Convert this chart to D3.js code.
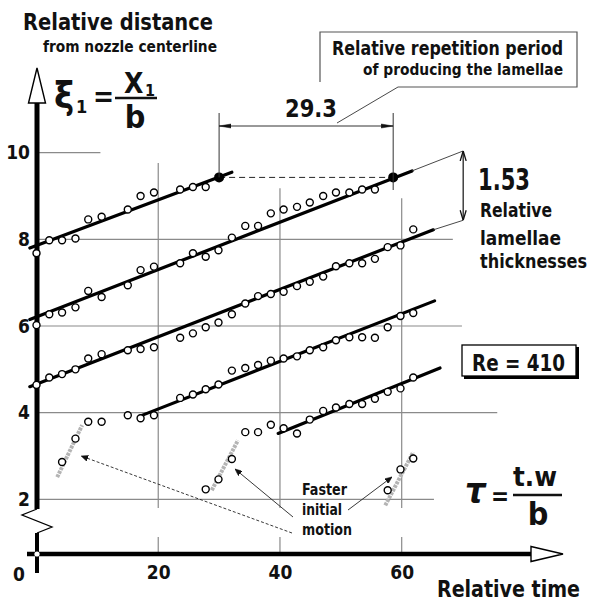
<!DOCTYPE html>
<html>
<head>
<meta charset="utf-8">
<script src="https://cdn.jsdelivr.net/npm/d3@7"></script>
<style>
  html, body { margin: 0; padding: 0; background: #fff; }
  svg { display: block; }
  text {
    font-family: "DejaVu Sans Condensed", "DejaVu Sans", sans-serif;
    font-stretch: condensed;
    font-weight: bold;
    fill: #111;
  }
</style>
</head>
<body>
<div id="chart"></div>
<script>
(function () {
    'use strict';

    // ticks
    var xTicks = [20, 40, 60];
    var yTicks = [2, 4, 6, 8, 10];

    // horizontal grid: level and where it stops (in tau units)
    var gridLevels = [10, 8, 6, 4, 2];
    var gridLevelEnds = [10.5, 68.4, 69.9, 75.7, 65.3];
    // vertical grid: tau and top (in xi units)
    var gridTimes = [20, 40, 60];
    var gridTimeTops = [9.76, 9.18, 8.95];

    // measured lamella positions [tau, xi1]
    var lamella1 = [[0, 7.68], [2.1, 7.98], [4.2, 7.98], [6.4, 8.02], [8.5, 8.46], [10.7, 8.52],
        [15.0, 8.69], [17.1, 9.00], [19.3, 9.08], [23.6, 9.15], [25.7, 9.21], [27.8, 9.21]];
    var lamella2 = [[0, 6.02], [2.1, 6.27], [4.2, 6.31], [6.4, 6.43], [8.5, 6.81], [10.7, 6.67],
        [15.0, 6.94], [17.1, 7.29], [19.3, 7.37], [23.6, 7.45], [25.7, 7.68], [27.8, 7.60],
        [29.9, 7.75], [32.1, 8.04], [34.3, 8.31], [36.4, 8.31], [38.5, 8.60], [40.6, 8.69],
        [42.8, 8.75], [44.9, 8.85], [47.1, 9.00], [49.2, 9.08], [51.4, 9.08], [53.5, 9.15],
        [55.6, 9.15]];
    var lamella3 = [[0, 4.64], [2.1, 4.81], [4.2, 4.89], [6.4, 5.00], [8.5, 5.25], [10.7, 5.35],
        [15.0, 5.44], [17.1, 5.47], [19.3, 5.51], [23.6, 5.73], [25.7, 5.83], [27.8, 5.97],
        [29.9, 6.08], [32.1, 6.27], [34.3, 6.52], [36.4, 6.69], [38.5, 6.74], [40.6, 6.79],
        [42.8, 6.92], [44.9, 7.02], [47.1, 7.14], [49.2, 7.38], [51.4, 7.45], [53.5, 7.45],
        [55.6, 7.55], [57.7, 7.82], [59.8, 7.86], [61.9, 8.23]];
    var lamella4 = [[15.0, 3.94], [17.1, 3.87], [19.3, 3.94], [23.6, 4.34], [25.7, 4.42],
        [27.8, 4.54], [29.9, 4.65], [32.1, 4.97], [34.3, 5.03], [36.4, 5.10], [38.5, 5.20],
        [40.6, 5.25], [42.8, 5.30], [44.9, 5.44], [47.1, 5.51], [49.2, 5.67], [51.4, 5.74],
        [53.5, 5.74], [55.6, 5.73], [57.7, 5.97], [59.8, 6.23], [61.9, 6.30]];
    var lamella5 = [[34.3, 3.55], [36.4, 3.55], [38.5, 3.72], [40.6, 3.64], [42.8, 3.52],
        [44.9, 3.84], [47.1, 4.04], [49.2, 4.12], [51.4, 4.20], [53.5, 4.20], [55.6, 4.32],
        [57.7, 4.48], [59.8, 4.56], [61.9, 4.81]];
    var initialMotion = [[4.2, 2.86], [6.4, 3.40], [8.5, 3.79], [10.7, 3.79],
        [27.8, 2.23], [29.9, 2.46], [32.1, 2.93],
        [57.7, 2.21], [59.8, 2.69], [61.9, 2.94]];

    // fitted lines [tau1, xi1, tau2, xi2]
    var fitLines = [
        [-1.1, 7.80, 32.1, 9.55],
        [-1.1, 6.15, 61.7, 9.58],
        [-1.1, 4.60, 65.2, 8.22],
        [17.0, 3.92, 65.4, 6.58],
        [39.7, 3.52, 66.3, 5.03]
    ];
    // faster initial motion slopes (grey)
    var fastSlopes = [
        [3.4, 2.51, 7.5, 3.71],
        [28.8, 2.21, 33.1, 3.36],
        [57.3, 1.86, 61.9, 3.09]
    ];
    // thin continuations used for the thickness measure
    var thinExtensions = [
        [61.7, 9.58, 70.1, 10.04],
        [65.2, 8.22, 70.1, 8.44]
    ];
    var periodDots = [[30.0, 9.43], [58.6, 9.43]];
    var periodLabel = '29.3';
    var thicknessLabel = '1.53';
    var reynolds = 'Re  = 410';

    var W = 603, H = 602;
    var axisX = 37, axisY = 554;

    var x = d3.scaleLinear().domain([0, 60]).range([36.5, 401.7]);
    var y = d3.scaleLinear().domain([2, 10]).range([499.3, 152.7]);

    var svg = d3.select('#chart').append('svg')
        .attr('width', W)
        .attr('height', H);

    var defs = svg.append('defs');

    function marker(id, path, w, h, refX, fill) {
        defs.append('marker')
            .attr('id', id)
            .attr('viewBox', '0 0 ' + w + ' ' + h)
            .attr('markerWidth', w)
            .attr('markerHeight', h)
            .attr('refX', refX)
            .attr('refY', h / 2)
            .attr('orient', 'auto-start-reverse')
            .attr('markerUnits', 'userSpaceOnUse')
            .append('path')
            .attr('d', path)
            .style('fill', fill)
            .style('stroke', '#111')
            .style('stroke-width', fill === 'none' ? 1.3 : 0.5);
    }
    marker('dim', 'M0,1 L12,3 L0,5 Z', 12, 6, 12, '#111');
    marker('vee', 'M0,1 L10,4 L0,7', 10, 8, 10, 'none');
    marker('lead', 'M0,0 L7,3 L0,6 Z', 7, 6, 7, '#111');

    function seg(g, d) {
        return g.append('line')
            .attr('x1', x(d[0])).attr('y1', y(d[1]))
            .attr('x2', x(d[2])).attr('y2', y(d[3]));
    }

    function label(txt, px, py, size, len, anchor) {
        var t = svg.append('text')
            .attr('x', px).attr('y', py)
            .style('font-size', size + 'px')
            .text(txt);
        if (len) t.attr('textLength', len).attr('lengthAdjust', 'spacingAndGlyphs');
        if (anchor) t.attr('text-anchor', anchor);
        return t;
    }

    // grid
    var grid = svg.append('g').attr('class', 'grid')
        .style('stroke', '#8a8a8a').style('stroke-width', 1.2);

    gridLevels.forEach(function (v, i) {
        grid.append('line')
            .attr('x1', axisX).attr('x2', x(gridLevelEnds[i]))
            .attr('y1', y(v)).attr('y2', y(v));
    });
    gridTimes.forEach(function (t, i) {
        grid.append('line')
            .attr('x1', x(t)).attr('x2', x(t))
            .attr('y1', y(gridTimeTops[i])).attr('y2', 508);
        grid.append('line')
            .attr('x1', x(t)).attr('x2', x(t))
            .attr('y1', 537).attr('y2', axisY);
    });

    // axes (labels through d3 axes, lines drawn by hand for the broken look)
    var yAxis = d3.axisLeft(y).tickValues(yTicks).tickSize(0).tickPadding(7);
    svg.append('g')
        .attr('transform', 'translate(' + axisX + ',0)')
        .call(yAxis)
        .call(function (g) { g.select('.domain').remove(); })
        .selectAll('text')
        .attr('font-family', null)
        .style('font-size', '19px');

    var xAxis = d3.axisBottom(x).tickValues(xTicks).tickSize(0).tickPadding(12);
    svg.append('g')
        .attr('transform', 'translate(0,' + axisY + ')')
        .call(xAxis)
        .call(function (g) { g.select('.domain').remove(); })
        .selectAll('text')
        .attr('font-family', null)
        .style('font-size', '19px');

    label('0', 19, 581, 19, null, 'middle');

    var axes = svg.append('g').style('stroke', '#000').style('fill', 'none');
    // vertical axis with break
    axes.append('line').attr('x1', axisX).attr('x2', axisX).attr('y1', 103).attr('y2', 509)
        .style('stroke-width', 5);
    axes.append('path').attr('d', 'M' + axisX + ',509 L22,515 L52,527 L' + axisX + ',533')
        .style('stroke-width', 1.3);
    axes.append('line').attr('x1', axisX).attr('x2', axisX).attr('y1', 533).attr('y2', 573)
        .style('stroke-width', 4);
    axes.append('path').attr('d', 'M' + axisX + ',68 L45.5,103 L28.5,103 Z')
        .style('fill', '#fff').style('stroke-width', 1.4);
    // horizontal axis
    axes.append('line').attr('x1', 27).attr('x2', 531).attr('y1', axisY).attr('y2', axisY)
        .style('stroke-width', 4.5);
    axes.append('path').attr('d', 'M531,546.5 L563,554 L531,561.5 Z')
        .style('fill', '#fff').style('stroke-width', 1.4);
    axes.append('circle').attr('cx', axisX).attr('cy', axisY).attr('r', 2.6)
        .style('fill', '#fff').style('stroke', 'none');

    // grey initial-motion slopes
    var slopes = svg.append('g').style('stroke', '#b4b4b4').style('stroke-width', 4)
        .style('stroke-dasharray', '3,1');
    fastSlopes.forEach(function (d) { seg(slopes, d); });

    // fitted lines
    var fits = svg.append('g').style('stroke', '#000').style('stroke-width', 3.2)
        .style('stroke-linecap', 'round');
    fitLines.forEach(function (d) { seg(fits, d); });

    var thin = svg.append('g').style('stroke', '#333').style('stroke-width', 0.9);
    thinExtensions.forEach(function (d) { seg(thin, d); });

    // period: dashed link + filled dots
    svg.append('line')
        .attr('x1', x(periodDots[0][0])).attr('x2', x(periodDots[1][0]))
        .attr('y1', y(periodDots[0][1])).attr('y2', y(periodDots[1][1]))
        .style('stroke', '#222').style('stroke-width', 1)
        .style('stroke-dasharray', '6,4');

    // data points
    var allPoints = [].concat(lamella1, lamella2, lamella3, lamella4, lamella5, initialMotion);
    svg.append('g').selectAll('circle')
        .data(allPoints)
        .join('circle')
        .attr('cx', function (d) { return x(d[0]); })
        .attr('cy', function (d) { return y(d[1]); })
        .attr('r', 3.5)
        .style('fill', '#fff')
        .style('stroke', '#000')
        .style('stroke-width', 1.4);

    svg.append('g').selectAll('circle')
        .data(periodDots)
        .join('circle')
        .attr('cx', function (d) { return x(d[0]); })
        .attr('cy', function (d) { return y(d[1]); })
        .attr('r', 5)
        .style('fill', '#000');

    // 29.3 dimension
    var dimY = 126;
    var dim = svg.append('g').style('stroke', '#333').style('stroke-width', 1);
    dim.append('line').attr('x1', x(periodDots[0][0])).attr('x2', x(periodDots[0][0]))
        .attr('y1', 113).attr('y2', y(periodDots[0][1]));
    dim.append('line').attr('x1', x(periodDots[1][0])).attr('x2', x(periodDots[1][0]))
        .attr('y1', 113).attr('y2', 190);
    dim.append('line').attr('x1', x(periodDots[0][0])).attr('x2', x(periodDots[1][0]))
        .attr('y1', dimY).attr('y2', dimY)
        .attr('marker-start', 'url(#dim)').attr('marker-end', 'url(#dim)');
    dim.append('line').attr('x1', 337).attr('y1', 123).attr('x2', 398).attr('y2', 87)
        .style('stroke-width', 0.9);
    label(periodLabel, 311, 117, 25, 52, 'middle');

    // callout box
    svg.append('path').attr('d', 'M320,82 V32 H577 V87 H398')
        .style('fill', 'none').style('stroke', '#555').style('stroke-width', 1.2);
    label('Relative repetition period', 332, 55, 20, 231);
    label('of producing the lamellae', 363, 75, 16, 200);

    // 1.53 thickness arrow
    var tx = x(thinExtensions[0][2]);
    svg.append('line').attr('x1', tx).attr('x2', tx)
        .attr('y1', y(thinExtensions[1][3])).attr('y2', y(thinExtensions[0][3]))
        .style('stroke', '#111').style('stroke-width', 1.2)
        .attr('marker-start', 'url(#vee)').attr('marker-end', 'url(#vee)');
    label(thicknessLabel, 478, 190, 30, 52);
    label('Relative', 480, 217, 20, 72);
    label('lamellae', 480, 245, 20, 81);
    label('thicknesses', 480, 268, 20, 107);

    // Re box
    svg.append('rect').attr('x', 464).attr('y', 347).attr('width', 115).attr('height', 32)
        .style('fill', '#000');
    svg.append('rect').attr('x', 462).attr('y', 345).attr('width', 114).attr('height', 31)
        .style('fill', '#fff').style('stroke', '#000').style('stroke-width', 1.3);
    label(reynolds, 472, 371, 23, 93);

    // faster initial motion
    var lead = svg.append('g').style('stroke', '#222').style('stroke-width', 0.9)
        .style('fill', 'none');
    lead.append('line').attr('x1', 292).attr('y1', 533)
        .attr('x2', x(fastSlopes[0][2]) - 1).attr('y2', 456)
        .style('stroke-dasharray', '3,2')
        .attr('marker-end', 'url(#lead)');
    lead.append('line').attr('x1', 293).attr('y1', 517)
        .attr('x2', x(fastSlopes[1][2]) - 3).attr('y2', 469)
        .attr('marker-end', 'url(#lead)');
    lead.append('line').attr('x1', 348).attr('y1', 510)
        .attr('x2', 392).attr('y2', 477)
        .attr('marker-end', 'url(#lead)');
    label('Faster', 302, 495, 16, 45);
    label('initial', 302, 515, 16, 40);
    label('motion', 302, 535, 16, 50);

    // axis titles
    label('Relative distance', 23, 30, 23, 190);
    label('from nozzle centerline', 43, 52, 15, 174);
    label('Relative time', 437, 597, 23, 143);

    // xi1 = X1 / b
    label('ξ', 54, 108, 38);
    label('1', 76, 113, 18);
    label('=', 93, 106, 28);
    svg.append('line').attr('x1', 115).attr('x2', 157).attr('y1', 98).attr('y2', 98)
        .style('stroke', '#111').style('stroke-width', 2.4);
    label('X', 124, 93, 28);
    label('1', 145, 96, 16);
    label('b', 135, 128, 32, null, 'middle');

    // tau = t.w / b
    label('τ', 465, 503, 36).style('font-style', 'italic');
    label('=', 491, 505, 24);
    svg.append('line').attr('x1', 513).attr('x2', 562).attr('y1', 495).attr('y2', 495)
        .style('stroke', '#111').style('stroke-width', 2.4);
    label('t.w', 535, 486, 27, 44, 'middle');
    label('b', 538, 525, 32, null, 'middle');
})();
</script>
</body>
</html>
